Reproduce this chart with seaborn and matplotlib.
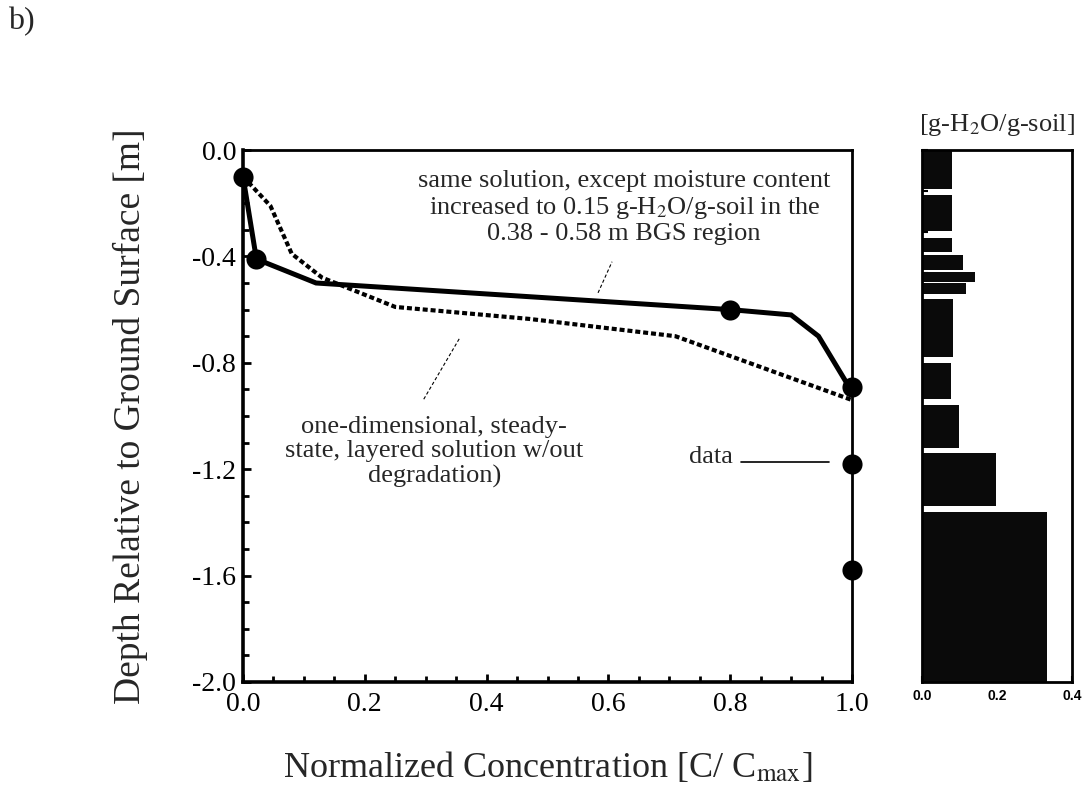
import numpy as np
import matplotlib
matplotlib.use("Agg")
import matplotlib.pyplot as plt
from matplotlib.ticker import MultipleLocator, FormatStrFormatter, FixedLocator, NullFormatter
import seaborn as sns
import pandas as pd

# ---- data -------------------------------------------------------------
# measured concentration profile
data_conc = [0.0, 0.022, 0.80, 1.0, 1.0, 1.0]
data_depth = [-0.10, -0.41, -0.60, -0.89, -1.18, -1.58]

# model with increased moisture in the 0.38-0.58 m layer (solid)
wet_conc = [0.0, 0.022, 0.12, 0.80, 0.90, 0.945, 0.995]
wet_depth = [-0.10, -0.41, -0.50, -0.60, -0.62, -0.70, -0.89]

# 1-D steady-state layered model without degradation (dotted)
base_conc = [0.0, 0.045, 0.08, 0.13, 0.25, 0.47, 0.71, 1.0]
base_depth = [-0.10, -0.21, -0.39, -0.48, -0.59, -0.635, -0.70, -0.94]

# soil moisture layers [g-H2O/g-soil]
layer_top = [0.0, 0.17, 0.33, 0.395, 0.46, 0.50, 0.56, 0.80, 0.96, 1.14, 1.36]
layer_bottom = [0.145, 0.305, 0.385, 0.45, 0.497, 0.54, 0.78, 0.935, 1.12, 1.34, 2.0]
moisture = [0.080, 0.080, 0.080, 0.109, 0.140, 0.117, 0.082, 0.078, 0.098, 0.197, 0.333]

conc_ticks = [0.0, 0.2, 0.4, 0.6, 0.8, 1.0]
depth_ticks = [0.0, -0.4, -0.8, -1.2, -1.6, -2.0]
moist_ticks = [0.0, 0.2, 0.4]

# ---- style ------------------------------------------------------------
sns.set_style("ticks")
plt.rcParams["font.family"] = ["Liberation Serif", "DejaVu Serif"]
plt.rcParams["mathtext.fontset"] = "stix"
plt.rcParams["axes.unicode_minus"] = False

fig = plt.figure(figsize=(10.86, 7.87), dpi=100)
fig.patch.set_facecolor("white")

ax = fig.add_axes([0.22376, 0.13342, 0.56077, 0.67598])
axm = fig.add_axes([0.84899, 0.13342, 0.13812, 0.67598])

# ---- main profile -----------------------------------------------------
df_wet = pd.DataFrame({"conc": wet_conc, "depth": wet_depth})
df_base = pd.DataFrame({"conc": base_conc, "depth": base_depth})
df_data = pd.DataFrame({"conc": data_conc, "depth": data_depth})

sns.lineplot(data=df_base, x="conc", y="depth", ax=ax, sort=False, estimator=None,
             color="black", lw=3.0, linestyle=(0, (1.2, 0.7)), zorder=3)
sns.lineplot(data=df_wet, x="conc", y="depth", ax=ax, sort=False, estimator=None,
             color="black", lw=3.6, zorder=4, solid_joinstyle="miter")
sns.scatterplot(data=df_data, x="conc", y="depth", ax=ax, s=210, color="black",
                edgecolor="black", linewidth=0, zorder=5, clip_on=False)

ax.set_xlim(0, 1.0)
ax.set_ylim(-2.0, 0.0)
ax.xaxis.set_major_locator(FixedLocator(conc_ticks))
ax.yaxis.set_major_locator(FixedLocator(depth_ticks))
ax.xaxis.set_minor_locator(MultipleLocator(0.05))
ax.yaxis.set_minor_locator(MultipleLocator(0.1))
ax.xaxis.set_major_formatter(FormatStrFormatter("%.1f"))
ax.yaxis.set_major_formatter(FormatStrFormatter("%.1f"))
ax.tick_params(axis="both", which="both", direction="in", top=False, right=False,
               labelsize=20, width=2.0, colors="black")
ax.tick_params(axis="both", which="major", length=6)
ax.tick_params(axis="both", which="minor", length=4)
ax.tick_params(axis="x", which="major", pad=7)
ax.tick_params(axis="y", which="major", pad=5)

for side in ["left", "bottom"]:
    ax.spines[side].set_linewidth(2.6)
for side in ["top", "right"]:
    ax.spines[side].set_linewidth(2.0)
for sp in ax.spines.values():
    sp.set_color("black")

ax.set_xlabel(r"Normalized Concentration [C/ C$_{\rm max}$]", fontsize=26)
ax.xaxis.label.set_verticalalignment("baseline")
ax.xaxis.set_label_coords(0.5, -0.1786)
ax.set_ylabel("Depth Relative to Ground Surface [m]", fontsize=27)
ax.yaxis.label.set_verticalalignment("center")
ax.yaxis.set_label_coords(-0.1856, 0.5)

# annotations
ax.text(0.626, -0.217,
        "same solution, except moisture content\n"
        "increased to 0.15 g-H$_2$O/g-soil in the\n"
        "0.38 - 0.58 m BGS region",
        ha="center", va="center", fontsize=19, linespacing=1.15)
ax.plot([0.583, 0.606], [-0.537, -0.42], color="black", lw=0.8,
        linestyle=(0, (3, 2)))

ax.text(0.314, -1.135,
        "one-dimensional, steady-\n"
        "state, layered solution w/out\n"
        "degradation)",
        ha="center", va="center", fontsize=19, linespacing=1.15)
ax.plot([0.355, 0.296], [-0.71, -0.94], color="black", lw=0.8,
        linestyle=(0, (3, 2)))

ax.text(0.805, -1.155, "data", ha="right", va="center", fontsize=19)
ax.plot([0.818, 0.962], [-1.173, -1.173], color="black", lw=1.2)

# ---- moisture column ---------------------------------------------------
tops = np.array(layer_top)
bots = np.array(layer_bottom)
axm.barh(y=-(tops + bots) / 2, width=moisture, height=bots - tops, left=0,
         color="#0a0a0a", edgecolor="none", align="center")
axm.set_xlim(0, 0.4)
axm.set_ylim(-2.0, 0.0)
axm.xaxis.set_major_locator(FixedLocator(moist_ticks))
axm.xaxis.set_minor_locator(FixedLocator([0.1, 0.3]))
axm.xaxis.set_major_formatter(FormatStrFormatter("%.1f"))
axm.yaxis.set_major_locator(FixedLocator(np.linspace(0, -2.0, 14)))
axm.yaxis.set_major_formatter(NullFormatter())
axm.tick_params(axis="both", which="both", direction="in", top=False, right=False,
                length=4, width=1.5, colors="black")
axm.tick_params(axis="x", which="major", labelsize=10, pad=5)
for lab in axm.get_xticklabels():
    lab.set_family(["Liberation Sans", "DejaVu Sans"])
    lab.set_fontweight("bold")
for sp in axm.spines.values():
    sp.set_linewidth(2.0)
    sp.set_color("black")
axm.set_title("[g-H$_2$O/g-soil]", fontsize=19, pad=14)

fig.text(0.0074, 0.972, "b)", fontsize=23, ha="left", va="center")

fig.savefig("out.png", dpi=100, facecolor="white")
